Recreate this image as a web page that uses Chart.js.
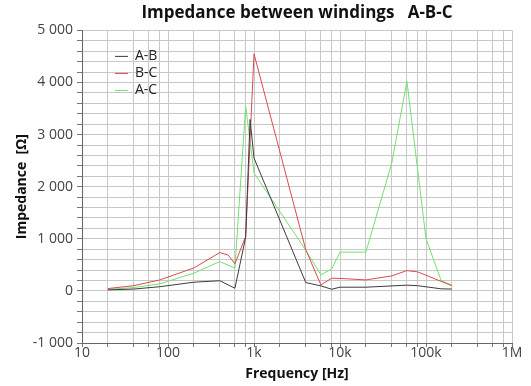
<!DOCTYPE html>
<html>
<head>
<meta charset="utf-8">
<script src="https://cdn.jsdelivr.net/npm/chart.js@4.4.0/dist/chart.umd.min.js"></script>
<style>
  html, body { margin: 0; padding: 0; background: #fff; }
  #wrap { width: 531px; height: 386px; }
</style>
</head>
<body>
<div id="wrap"><canvas id="impChart"></canvas></div>
<script>
// values
const freqAB = [20, 40, 80, 200, 400, 600, 800, 900, 1000, 4000, 6000, 8000, 10000, 20000, 60000, 80000, 150000, 200000];
const valAB  = [20, 35, 80, 167, 195, 51, 1030, 3290, 2550, 160, 96, 32, 71, 71, 110, 100, 40, 35];

const freqBC = [20, 40, 80, 200, 400, 500, 600, 800, 1000, 4000, 6000, 8000, 10000, 20000, 40000, 60000, 80000, 200000];
const valBC  = [45, 100, 210, 440, 735, 690, 520, 1045, 4550, 790, 115, 244, 240, 211, 288, 390, 365, 100];

const freqAC = [20, 40, 80, 200, 400, 600, 800, 1000, 4000, 6000, 8000, 10000, 20000, 40000, 60000, 100000, 150000, 200000];
const valAC  = [30, 64, 135, 340, 563, 436, 3545, 2263, 780, 308, 420, 744, 744, 2455, 4025, 1000, 200, 110];

const seriesNames = ['A-B', 'B-C', 'A-C'];
const seriesColors = ['#3c3c3c', '#dc4a4a', '#72e072'];

const xTickValues = [10, 100, 1000, 10000, 100000, 1000000];
const xTickLabels = ['10', '100', '1k', '10k', '100k', '1M'];
const xMinorSteps = [2, 4, 6, 8];

const toPoints = (xs, ys) => xs.map((x, i) => ({ x: x, y: ys[i] }));

const fmtY = (v) => {
  if (v === 0) return '0';
  const s = Math.abs(v).toString().replace(/\B(?=(\d{3})+(?!\d))/g, ' ');
  return (v < 0 ? '-' : '') + s;
};

// legend drawn inside the plot area, top left
const innerLegend = {
  id: 'innerLegend',
  afterDraw(chart) {
    const ctx = chart.ctx;
    const a = chart.chartArea;
    ctx.save();
    ctx.font = '14px "Open Sans"';
    ctx.textBaseline = 'middle';
    chart.data.datasets.forEach((ds, i) => {
      const y = a.top + 26 + i * 17;
      ctx.strokeStyle = ds.borderColor;
      ctx.lineWidth = 1;
      ctx.beginPath();
      ctx.moveTo(a.left + 33, y);
      ctx.lineTo(a.left + 46, y);
      ctx.stroke();
      ctx.fillStyle = '#222';
      ctx.fillText(ds.label, a.left + 53, y);
    });
    ctx.restore();
  }
};

const datasets = [
  toPoints(freqAB, valAB),
  toPoints(freqBC, valBC),
  toPoints(freqAC, valAC)
].map((pts, i) => ({
  label: seriesNames[i],
  data: pts,
  borderColor: seriesColors[i],
  backgroundColor: seriesColors[i],
  borderWidth: 1,
  pointRadius: 0,
  tension: 0
}));

new Chart(document.getElementById('impChart'), {
  type: 'line',
  data: { datasets: datasets },
  plugins: [innerLegend],
  options: {
    responsive: true,
    maintainAspectRatio: false,
    animation: false,
    layout: { padding: { right: 19, left: 0, top: 0, bottom: 4 } },
    plugins: {
      legend: { display: false },
      tooltip: { enabled: false },
      title: {
        display: true,
        text: 'Impedance between windings   A-B-C',
        fullSize: false,
        color: '#111',
        font: { family: 'Open Sans', size: 17, weight: 'bold' },
        padding: { top: 3, bottom: 7 }
      }
    },
    scales: {
      x: {
        type: 'logarithmic',
        min: 10,
        max: 1000000,
        afterBuildTicks(scale) {
          const ticks = [];
          xTickValues.forEach((d) => {
            ticks.push({ value: d });
            if (d < 1000000) xMinorSteps.forEach((m) => ticks.push({ value: d * m }));
          });
          scale.ticks = ticks;
        },
        afterFit(scale) { scale.height = 39; },
        ticks: {
          autoSkip: false,
          maxRotation: 0,
          padding: -2,
          color: '#444',
          font: { family: 'Open Sans', size: 14 },
          callback(value) {
            const k = xTickValues.indexOf(value);
            return k >= 0 ? xTickLabels[k] : '';
          }
        },
        grid: { color: '#c8c8c8', tickColor: '#777', tickLength: 4 },
        border: { color: '#666' },
        title: {
          display: true,
          text: 'Frequency [Hz]',
          color: '#111',
          font: { family: 'Open Sans', size: 14, weight: 'bold' },
          padding: { top: 0, bottom: 0 }
        }
      },
      y: {
        min: -1000,
        max: 5000,
        afterFit(scale) { scale.width = 82; },
        ticks: {
          stepSize: 200,
          autoSkip: false,
          padding: 4,
          color: '#444',
          font: { family: 'Open Sans', size: 14 },
          callback(value) {
            return value % 1000 === 0 ? fmtY(value) : '';
          }
        },
        grid: { color: '#c8c8c8', tickColor: '#777', tickLength: 5 },
        border: { color: '#666' },
        title: {
          display: true,
          text: 'Impedance  [Ω]',
          color: '#111',
          font: { family: 'Open Sans', size: 14, weight: 'bold' },
          padding: { top: 14, bottom: 0 }
        }
      }
    }
  }
});
</script>
</body>
</html>
